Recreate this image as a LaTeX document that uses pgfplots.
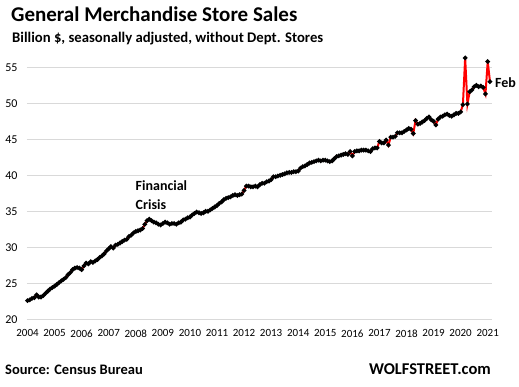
\documentclass[border=0pt]{standalone}
\usepackage{fontspec}
\setmainfont{Carlito}
\usepackage{pgfplots}
\pgfplotsset{compat=1.18}
\definecolor{gridgray}{RGB}{217,217,217}
\begin{document}
\begin{tikzpicture}
\path[use as bounding box] (0pt,0pt) rectangle (519pt,387pt);
\begin{axis}[
  at={(27pt,67.7pt)}, anchor=south west,
  scale only axis, width=465pt, height=266.4pt,
  xmin=-0.22, xmax=205.9, ymin=20, ymax=57,
  axis line style={draw=none},
  tick style={draw=none},
  ytick={20,25,...,55},
  ymajorgrids, grid style={gridgray, line width=0.8pt},
  xtick={0,12,...,204},
  xticklabels={2004,2005,2006,2007,2008,2009,2010,2011,2012,2013,2014,2015,2016,2017,2018,2019,2020,2021},
  xticklabel style={font=\fontsize{11}{11}\selectfont, yshift=-7pt},
  yticklabel style={font=\fontsize{12}{12}\selectfont, xshift=-6pt},
  /pgf/number format/assume math mode=true,
  clip=false,
]
\addplot[red, line width=2pt, mark=*, mark size=1.15pt, mark options={fill=black, draw=black}] coordinates {
(0,22.6)(1,22.7)(2,22.9)(3,23.0)(4,23.4)(5,23.1)(6,23.1)(7,23.3)(8,23.6)(9,23.9)(10,24.2)(11,24.4)
(12,24.6)(13,24.85)(14,25.1)(15,25.35)(16,25.55)(17,25.8)(18,26.2)(19,26.5)(20,26.9)(21,27.1)(22,27.2)(23,27.1)
(24,26.9)(25,27.4)(26,27.8)(27,27.7)(28,28.0)(29,27.9)(30,28.1)(31,28.3)(32,28.6)(33,28.8)(34,29.1)(35,29.5)
(36,29.8)(37,30.1)(38,29.9)(39,30.3)(40,30.4)(41,30.6)(42,30.8)(43,31.0)(44,31.1)(45,31.5)(46,31.7)(47,32.0)
(48,32.2)(49,32.3)(50,32.4)(51,32.6)(52,33.2)(53,33.7)(54,33.9)(55,33.7)(56,33.5)(57,33.4)(58,33.2)(59,33.1)
(60,33.3)(61,33.5)(62,33.4)(63,33.2)(64,33.3)(65,33.3)(66,33.2)(67,33.4)(68,33.5)(69,33.8)(70,33.9)(71,34.1)
(72,34.2)(73,34.5)(74,34.7)(75,34.9)(76,34.8)(77,34.7)(78,34.8)(79,35.0)(80,35.0)(81,35.2)(82,35.4)(83,35.6)
(84,35.8)(85,36.1)(86,36.3)(87,36.6)(88,36.8)(89,36.9)(90,37.0)(91,37.2)(92,37.3)(93,37.2)(94,37.3)(95,37.4)
(96,37.9)(97,38.5)(98,38.5)(99,38.4)(100,38.4)(101,38.5)(102,38.4)(103,38.7)(104,38.9)(105,38.9)(106,39.1)(107,39.2)
(108,39.4)(109,39.8)(110,39.8)(111,39.9)(112,40.0)(113,40.1)(114,40.2)(115,40.35)(116,40.4)(117,40.4)(118,40.5)(119,40.5)
(120,40.6)(121,41.0)(122,41.2)(123,41.3)(124,41.5)(125,41.7)(126,41.8)(127,41.9)(128,42.0)(129,42.1)(130,42.0)(131,42.1)
(132,42.1)(133,42.0)(134,41.9)(135,42.0)(136,42.3)(137,42.6)(138,42.7)(139,42.8)(140,42.9)(141,43.0)(142,42.9)(143,43.3)
(144,42.7)(145,43.3)(146,43.4)(147,43.4)(148,43.5)(149,43.5)(150,43.5)(151,43.4)(152,43.3)(153,43.7)(154,43.8)(155,43.8)
(156,44.7)(157,44.5)(158,44.5)(159,44.9)(160,44.2)(161,45.3)(162,45.3)(163,45.4)(164,45.9)(165,45.9)(166,45.9)(167,46.1)
(168,46.3)(169,46.5)(170,46.4)(171,45.8)(172,47.6)(173,47.1)(174,47.2)(175,47.4)(176,47.6)(177,47.9)(178,48.1)(179,47.7)
(180,47.5)(181,47.0)(182,47.8)(183,48.1)(184,48.2)(185,48.4)(186,48.5)(187,48.3)(188,48.2)(189,48.4)(190,48.6)(191,48.6)
(192,48.8)(193,49.8)(194,56.3)(195,49.9)(196,51.6)(197,51.85)(198,52.3)(199,52.5)(200,52.3)(201,52.4)(202,52.2)(203,51.3)
(204,55.8)(205,53.0)
};
\end{axis}
\node[anchor=base west, inner sep=0pt, font=\fontsize{21}{21}\selectfont\bfseries] at (11pt,365pt) {General Merchandise Store Sales};
\node[anchor=base west, inner sep=0pt, font=\fontsize{14.7}{14.7}\selectfont\bfseries] at (12pt,344.3pt) {Billion \$, seasonally adjusted, without Dept. Stores};
\node[anchor=base west, inner sep=0pt, font=\fontsize{14}{14}\selectfont\bfseries] at (135.5pt,196pt) {Financial};
\node[anchor=base west, inner sep=0pt, font=\fontsize{14}{14}\selectfont\bfseries] at (135.5pt,177.7pt) {Crisis};
\node[anchor=base west, inner sep=0pt, font=\fontsize{14}{14}\selectfont\bfseries] at (495pt,299.3pt) {Feb};
\node[anchor=base west, inner sep=0pt, font=\fontsize{14.5}{14.5}\selectfont\bfseries] at (5pt,12.7pt) {Source: Census Bureau};
\node[anchor=base east, inner sep=0pt, font=\fontsize{16.5}{16.5}\selectfont\bfseries] at (491pt,12pt) {WOLFSTREET.com};
\end{tikzpicture}
\end{document}
